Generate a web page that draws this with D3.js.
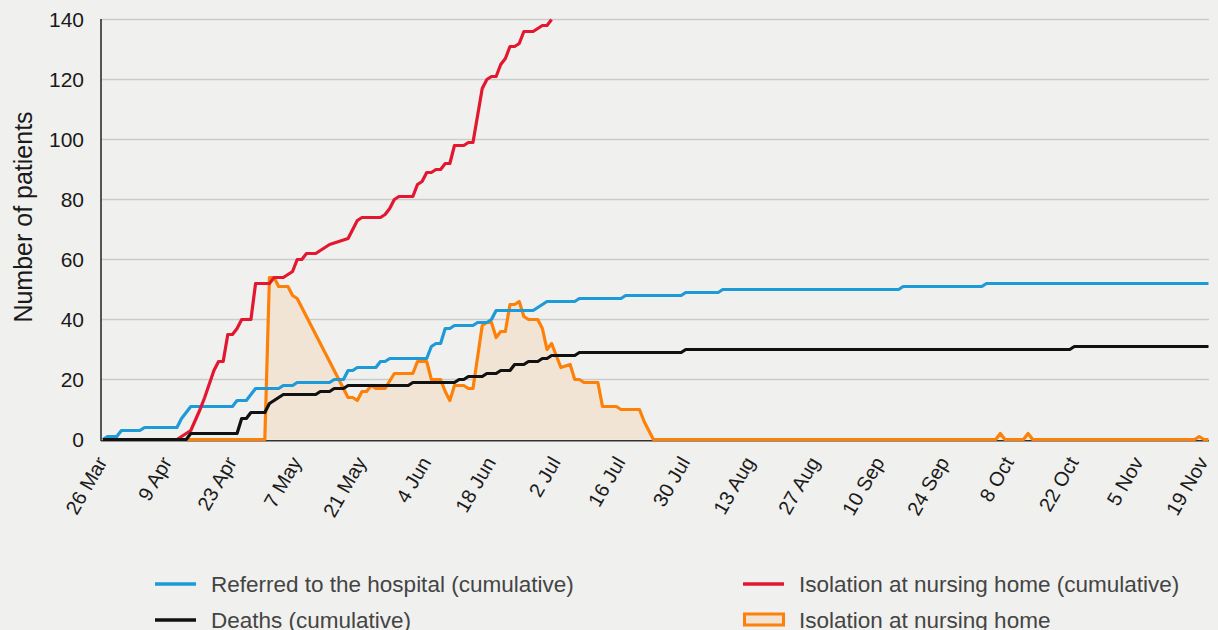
<!DOCTYPE html>
<html><head><meta charset="utf-8">
<script src="https://cdn.jsdelivr.net/npm/d3@7"></script>
<style>
html,body{margin:0;padding:0;background:#f0f0ee;}
svg{display:block;font-family:"Liberation Sans",Arial,sans-serif;}
</style></head><body>
<svg id="chart" width="1218" height="630"></svg>
<script>
// ---- data (day offset from start date, value) ----
const startDate = "2020-03-26";
const endDate = "2020-11-20";
const xTickDates = ["2020-03-26","2020-04-09","2020-04-23","2020-05-07","2020-05-21","2020-06-04","2020-06-18","2020-07-02","2020-07-16","2020-07-30","2020-08-13","2020-08-27","2020-09-10","2020-09-24","2020-10-08","2020-10-22","2020-11-05","2020-11-19"];
const yTicks = [0,20,40,60,80,100,120,140];
const seriesNames = ["Referred to the hospital (cumulative)","Deaths (cumulative)","Isolation at nursing home (cumulative)","Isolation at nursing home"];

const referredHospital = [[0,0],[1,1],[3,1],[4,3],[8,3],[9,4],[16,4],[17,7],[19,11],[28,11],[29,13],[31,13],[33,17],[38,17],[39,18],[41,18],[42,19],[49,19],[50,20],[52,20],[53,23],[54,23],[55,24],[59,24],[60,26],[61,26],[62,27],[70,27],[71,31],[72,32],[73,32],[74,37],[75,37],[76,38],[80,38],[81,39],[83,39],[84,40],[85,43],[93,43],[96,46],[102,46],[103,47],[112,47],[113,48],[125,48],[126,49],[133,49],[134,50],[172,50],[173,51],[190,51],[191,52],[239,52]];

const deaths = [[0,0],[18,0],[19,2],[29,2],[30,7],[31,7],[32,9],[35,9],[36,12],[37,13],[39,15],[46,15],[47,16],[49,16],[50,17],[52,17],[53,18],[66,18],[67,19],[76,19],[77,20],[78,20],[79,21],[82,21],[83,22],[85,22],[86,23],[88,23],[89,25],[91,25],[92,26],[94,26],[95,27],[96,27],[97,28],[102,28],[103,29],[125,29],[126,30],[209,30],[210,31],[239,31]];

const isolationCumulative = [[0,0],[16,0],[18,2],[19,3],[21,10],[22,14],[24,23],[25,26],[26,26],[27,35],[28,35],[29,37],[30,40],[32,40],[33,52],[36,52],[37,54],[39,54],[40,55],[41,56],[42,60],[43,60],[44,62],[46,62],[49,65],[51,66],[53,67],[54,70],[55,73],[56,74],[60,74],[61,75],[62,77],[63,80],[64,81],[67,81],[68,85],[69,86],[70,89],[71,89],[72,90],[73,90],[74,92],[75,92],[76,98],[78,98],[79,99],[80,99],[81,108],[82,117],[83,120],[84,121],[85,121],[86,125],[87,127],[88,131],[89,131],[90,132],[91,136],[93,136],[95,138],[96,138],[97,140]];

const isolationDaily = [[0,0],[35,0],[36,54],[37,54],[38,51],[40,51],[41,48],[42,47],[53,14],[54,14],[55,13],[56,16],[57,16],[58,18],[59,17],[61,17],[63,22],[67,22],[68,26],[70,26],[71,20],[73,20],[74,16],[75,13],[76,18],[78,18],[79,17],[80,17],[82,38],[83,39],[84,39],[85,34],[86,36],[87,36],[88,45],[89,45],[90,46],[91,41],[92,40],[94,40],[95,37],[96,30],[97,32],[99,24],[101,25],[102,20],[103,20],[104,19],[107,19],[108,11],[111,11],[112,10],[116,10],[117,6],[119,0],[193,0],[194,2],[195,0],[199,0],[200,2],[201,0],[236,0],[237,1],[238,0],[239,0]];

// ---- chart ----
const colors = {blue:"#1d9bd8", black:"#111111", red:"#e3172f", orange:"#fd8009", fill:"#f2e4d4"};
const parse = d3.utcParse("%Y-%m-%d");
const t0 = parse(startDate);
const toDate = d => d3.utcDay.offset(t0, d);
const svg = d3.select("#chart");

const x = d3.scaleUtc().domain([t0, parse(endDate)]).range([102.9, 1208.5]);
const y = d3.scaleLinear().domain([0, 140]).range([439.5, 19.5]);

// gridlines
svg.append("g").selectAll("line").data(yTicks.filter(v => v > 0)).join("line")
  .attr("x1", 101).attr("x2", 1209)
  .attr("y1", d => y(d)).attr("y2", d => y(d))
  .attr("stroke", "#cbcbcb").attr("stroke-width", 1.5);

// y axis
const yAxis = svg.append("g").attr("transform", "translate(101,0)")
  .call(d3.axisLeft(y).tickValues(yTicks).tickSize(0).tickPadding(17));
yAxis.select(".domain").attr("stroke", "#222").attr("stroke-width", 1.5).attr("d", `M0,${y(140)-0.5}V${y(0)+1.5}`);
yAxis.selectAll("text").attr("font-size", 21).attr("fill", "#1a1a1a").attr("font-family", "Liberation Sans, Arial, sans-serif");

// x axis line
svg.append("line").attr("x1", 101).attr("x2", 1209).attr("y1", y(0)+1.3).attr("y2", y(0)+1.3)
  .attr("stroke", "#333").attr("stroke-width", 1.5);

// x tick labels
const fmt = d3.utcFormat("%-d %b");
svg.append("g").selectAll("text").data(xTickDates.map(parse)).join("text")
  .attr("transform", d => `translate(${x(d)+5},${462}) rotate(-60)`)
  .attr("text-anchor", "end")
  .attr("font-size", 20).attr("fill", "#1a1a1a")
  .text(d => fmt(d));

// y title
svg.append("text").attr("transform", "translate(32,217) rotate(-90)")
  .attr("text-anchor", "middle").attr("font-size", 25).attr("fill", "#1a1a1a")
  .text("Number of patients");

const line = d3.line().x(d => x(toDate(d[0]))).y(d => y(d[1]));
const area = d3.area().x(d => x(toDate(d[0]))).y0(y(0)).y1(d => y(d[1]));

svg.append("path").datum(isolationDaily).attr("d", area).attr("fill", colors.fill);

function drawLine(data, color) {
  svg.append("path").datum(data).attr("d", line)
    .attr("fill", "none").attr("stroke", color).attr("stroke-width", 3.2)
    .attr("stroke-linejoin", "round");
}
drawLine(isolationDaily, colors.orange);
drawLine(referredHospital, colors.blue);
drawLine(isolationCumulative, colors.red);
drawLine(deaths, colors.black);

// legend
const legend = [
  {name: seriesNames[0], color: colors.blue, x: 155, y: 591.5, type: "line"},
  {name: seriesNames[1], color: colors.black, x: 155, y: 627.5, type: "line"},
  {name: seriesNames[2], color: colors.red, x: 743, y: 591.5, type: "line"},
  {name: seriesNames[3], color: colors.orange, x: 743, y: 627.5, type: "area"}
];
const lg = svg.append("g");
legend.forEach(l => {
  if (l.type === "line") {
    lg.append("line").attr("x1", l.x).attr("x2", l.x + 41).attr("y1", l.y - 7.5).attr("y2", l.y - 7.5)
      .attr("stroke", l.color).attr("stroke-width", 3.5);
  } else {
    lg.append("rect").attr("x", l.x + 1.5).attr("y", l.y - 13.5).attr("width", 39).attr("height", 11)
      .attr("fill", colors.fill).attr("stroke", l.color).attr("stroke-width", 3);
  }
  lg.append("text").attr("x", l.x + 56).attr("y", l.y).attr("font-size", 22.5).attr("fill", "#444")
    .text(l.name);
});
</script>
</body></html>
